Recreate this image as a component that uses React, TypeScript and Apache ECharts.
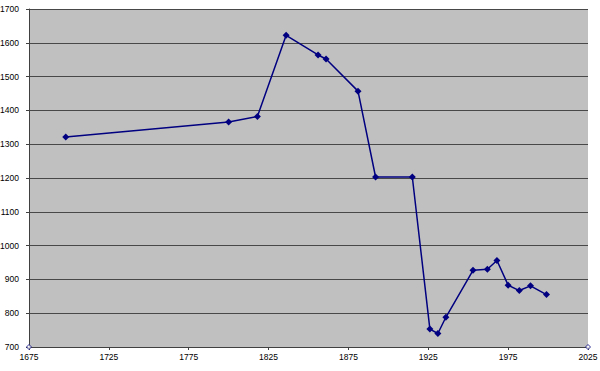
import React, { useEffect, useRef } from "react";
import * as echarts from "echarts";

const years = [1698, 1800, 1818, 1836, 1856, 1861, 1881, 1892, 1915, 1926, 1931, 1936, 1953, 1962, 1968, 1975, 1982, 1989, 1999];
const values = [1321, 1366, 1382, 1622, 1564, 1552, 1457, 1203, 1203, 753, 740, 788, 927, 930, 956, 883, 867, 881, 855];
const cornerYears = [1675, 2025];
const cornerValues = [700, 700];

const FONT = "Liberation Sans";

export default function App() {
  const ref = useRef<HTMLDivElement>(null);
  useEffect(() => {
    const chart = echarts.init(ref.current!, null, { renderer: "svg" });
    chart.setOption({
      animation: false,
      backgroundColor: "#ffffff",
      grid: {
        left: 29,
        right: 12,
        top: 9,
        bottom: 24,
        outerBoundsMode: "none",
        containLabel: false,
        show: true,
        backgroundColor: "#c0c0c0",
        borderWidth: 0,
      },
      xAxis: {
        type: "value",
        min: 1675,
        max: 2025,
        interval: 50,
        axisLine: { show: true, lineStyle: { color: "#404040", width: 1 } },
        axisTick: { show: true, length: 3, lineStyle: { color: "#404040" } },
        axisLabel: { fontFamily: FONT, fontSize: 8.5, color: "#000", margin: 5, formatter: (v: number) => String(v) },
        splitLine: { show: false },
      },
      yAxis: {
        type: "value",
        min: 700,
        max: 1700,
        interval: 100,
        axisLine: { show: true, lineStyle: { color: "#404040", width: 1 } },
        axisTick: { show: true, length: 3, lineStyle: { color: "#404040" } },
        axisLabel: { fontFamily: FONT, fontSize: 8.5, color: "#000", margin: 10, formatter: (v: number) => String(v) },
        splitLine: { show: true, lineStyle: { color: "#484848", width: 1 } },
      },
      series: [
        {
          type: "line",
          data: years.map((y, i) => [y, values[i]]),
          symbol: "diamond",
          symbolSize: 7,
          showAllSymbol: true,
          lineStyle: { color: "#000080", width: 1.5 },
          itemStyle: { color: "#000080" },
        },
        {
          type: "scatter",
          data: cornerYears.map((y, i) => [y, cornerValues[i]]),
          symbol: "diamond",
          symbolSize: 5,
          itemStyle: { color: "#ffffff", borderColor: "#000080", borderWidth: 1 },
        },
      ],
    });
    return () => chart.dispose();
  }, []);
  return <div ref={ref} style={{ position: "absolute", left: 0, top: 0, width: 600, height: 371 }} />;
}
